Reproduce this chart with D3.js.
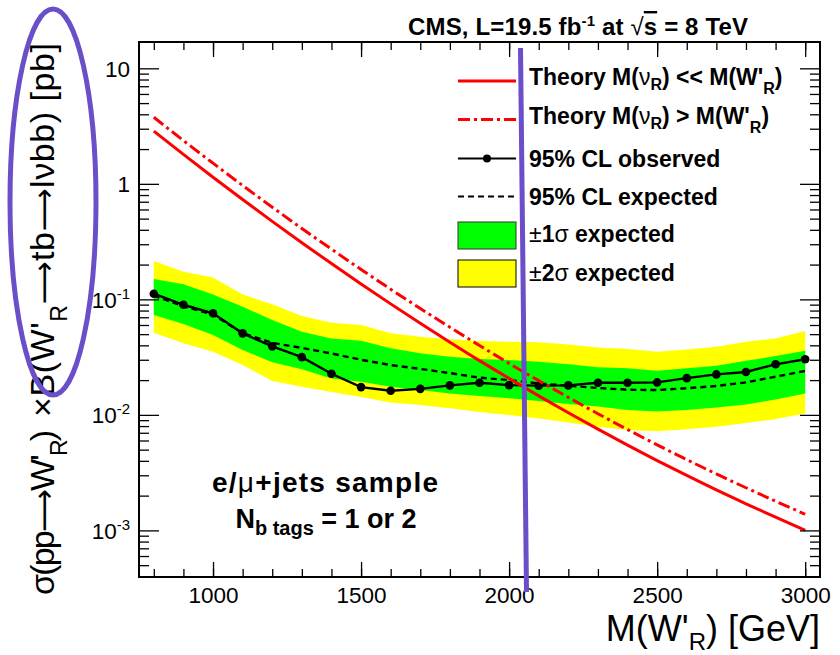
<!DOCTYPE html>
<html>
<head>
<meta charset="utf-8">
<script src="https://cdn.jsdelivr.net/npm/d3@7/dist/d3.min.js"></script>
<style>
  html, body { margin: 0; padding: 0; background: #fff; }
  svg { display: block; font-family: "Liberation Sans", Arial, Helvetica, sans-serif; }
</style>
</head>
<body>
<svg id="chart" width="840" height="655"></svg>
<script>
// W'_R -> tb mass points (GeV)
const masses = [800, 900, 1000, 1100, 1200, 1300, 1400, 1500, 1600, 1700, 1800, 1900,
                2000, 2100, 2200, 2300, 2400, 2500, 2600, 2700, 2800, 2900, 3000];

// 95% CL upper limits on sigma x B (pb)
const observed = [0.112, 0.0898, 0.0757, 0.0508, 0.0392, 0.0316, 0.0227, 0.0174, 0.0162, 0.0168, 0.0180, 0.0190,
                  0.0181, 0.0179, 0.0180, 0.0190, 0.0190, 0.0191, 0.0208, 0.0224, 0.0235, 0.0274, 0.0303];
const expected = [0.108, 0.087, 0.074, 0.051, 0.042, 0.038, 0.034, 0.030, 0.027, 0.025, 0.023, 0.021,
                  0.020, 0.0187, 0.0179, 0.0171, 0.0165, 0.0164, 0.0170, 0.0178, 0.0191, 0.0214, 0.0240];

// expected-limit bands
const plus2 = [0.215, 0.173, 0.155, 0.110, 0.0905, 0.0717, 0.0627, 0.0600, 0.0508, 0.0475, 0.0451, 0.0436,
               0.0430, 0.0425, 0.0407, 0.0384, 0.0371, 0.0352, 0.0369, 0.0389, 0.0430, 0.0459, 0.0531];
const plus1 = [0.150, 0.135, 0.110, 0.0863, 0.0662, 0.0524, 0.0459, 0.0438, 0.0377, 0.0341, 0.0318, 0.0304,
               0.0298, 0.0288, 0.0275, 0.0258, 0.0253, 0.0241, 0.0253, 0.0266, 0.0294, 0.0323, 0.0359];
const minus1 = [0.0731, 0.0611, 0.0491, 0.0364, 0.0285, 0.0248, 0.0207, 0.0194, 0.0175, 0.0164, 0.0153, 0.0146,
                0.0139, 0.0132, 0.0124, 0.0118, 0.0110, 0.0107, 0.0110, 0.0116, 0.0123, 0.0136, 0.0153];
const minus2 = [0.0514, 0.0416, 0.0352, 0.0270, 0.0196, 0.0175, 0.0158, 0.0143, 0.0128, 0.0122, 0.0114, 0.0106,
                0.0100, 0.0093, 0.0086, 0.0079, 0.0074, 0.0072, 0.0075, 0.0079, 0.0085, 0.0092, 0.0103];

// theory cross sections (pb)
const theoryLight = [2.86, 1.80, 1.14, 0.731, 0.473, 0.309, 0.204, 0.136, 0.0914, 0.0621, 0.0426, 0.0295,
                     0.0207, 0.0146, 0.01043, 0.00752, 0.00547, 0.00402, 0.00299, 0.00224, 0.00170, 0.00130, 0.00100];
const theoryHeavy = [3.77, 2.37, 1.51, 0.968, 0.628, 0.411, 0.272, 0.1815, 0.1224, 0.0834, 0.0574, 0.0399,
                     0.0279, 0.0198, 0.01417, 0.01023, 0.00747, 0.00550, 0.00410, 0.00308, 0.00234, 0.00179, 0.00138];

// axis ticks
const xMajor = [1000, 1500, 2000, 2500, 3000];
const yMajor = [0.001, 0.01, 0.1, 1, 10];
const yLabels = [["10", "-3"], ["10", "-2"], ["10", "-1"], ["1", ""], ["10", ""]];

const svg = d3.select("#chart");
const L = 139, R = 820, T = 42, B = 577;

const x = d3.scaleLinear().domain([750, 3050]).range([L, R]);
const y = d3.scaleLog().domain([3.95e-4, 16.9]).range([B, T]);

const pts = (vals) => masses.map((m, i) => [m, vals[i]]);

// bands
const band = (lo, hi) => d3.area()
  .x((d, i) => x(masses[i]))
  .y0((d, i) => y(lo[i]))
  .y1((d, i) => y(hi[i]))(masses);

svg.append("path").attr("d", band(minus2, plus2)).attr("fill", "#ffff00");
svg.append("path").attr("d", band(minus1, plus1)).attr("fill", "#00ff00");

const line = d3.line().x(d => x(d[0])).y(d => y(d[1]));
const smooth = d3.line().x(d => x(d[0])).y(d => y(d[1])).curve(d3.curveMonotoneX);

// expected limit
svg.append("path").attr("d", line(pts(expected)))
  .attr("fill", "none").attr("stroke", "#000").attr("stroke-width", 2.4)
  .attr("stroke-dasharray", "6,4");

// observed limit
svg.append("path").attr("d", line(pts(observed)))
  .attr("fill", "none").attr("stroke", "#000").attr("stroke-width", 2.4);
svg.selectAll("circle.obs").data(pts(observed)).enter().append("circle")
  .attr("class", "obs")
  .attr("cx", d => x(d[0])).attr("cy", d => y(d[1])).attr("r", 4.3).attr("fill", "#000");

// theory curves
svg.append("path").attr("d", smooth(pts(theoryLight)))
  .attr("fill", "none").attr("stroke", "#ff0000").attr("stroke-width", 3);
svg.append("path").attr("d", smooth(pts(theoryHeavy)))
  .attr("fill", "none").attr("stroke", "#ff0000").attr("stroke-width", 3)
  .attr("stroke-dasharray", "12,4,3,4");

// axes: ticks drawn inward on all four sides
function styleAxis(g) {
  g.select(".domain").remove();
  g.selectAll(".tick line").attr("stroke", "#000").attr("stroke-width", 1.3);
}
const xMinor = d3.range(800, 3001, 100);
const yMinor = [];
for (let e = -4; e <= 1; e++) for (let k = 2; k <= 9; k++) {
  const v = k * Math.pow(10, e);
  if (v > 3.95e-4 && v < 16.9) yMinor.push(v);
}

svg.append("g").attr("transform", `translate(0,${B})`)
  .call(d3.axisBottom(x).tickValues(xMinor).tickSize(-8).tickFormat("")).call(styleAxis);
svg.append("g").attr("transform", `translate(0,${B})`)
  .call(d3.axisBottom(x).tickValues(xMajor).tickSize(-15).tickPadding(10).tickFormat(d3.format("d")))
  .call(styleAxis)
  .call(g => g.selectAll("text").attr("font-size", 22.5).attr("fill", "#000")
    .attr("font-family", "'Liberation Sans', Arial, sans-serif"));
svg.append("g").attr("transform", `translate(0,${T})`)
  .call(d3.axisTop(x).tickValues(xMinor).tickSize(-8).tickFormat("")).call(styleAxis);
svg.append("g").attr("transform", `translate(0,${T})`)
  .call(d3.axisTop(x).tickValues(xMajor).tickSize(-15).tickFormat("")).call(styleAxis);

svg.append("g").attr("transform", `translate(${L},0)`)
  .call(d3.axisLeft(y).tickValues(yMinor).tickSize(-10).tickFormat("")).call(styleAxis);
svg.append("g").attr("transform", `translate(${L},0)`)
  .call(d3.axisLeft(y).tickValues(yMajor).tickSize(-20).tickFormat("")).call(styleAxis);
svg.append("g").attr("transform", `translate(${R},0)`)
  .call(d3.axisRight(y).tickValues(yMinor).tickSize(-10).tickFormat("")).call(styleAxis);
svg.append("g").attr("transform", `translate(${R},0)`)
  .call(d3.axisRight(y).tickValues(yMajor).tickSize(-20).tickFormat("")).call(styleAxis);

// y tick labels with exponents
yMajor.forEach((v, i) => {
  const [base, exp] = yLabels[i];
  const t = svg.append("text").attr("x", 130).attr("y", y(v) + 8.5)
    .attr("text-anchor", "end").attr("font-size", 22.5).attr("fill", "#000");
  t.append("tspan").text(base);
  if (exp) t.append("tspan").attr("font-size", 15).attr("dy", -9).text(exp);
});

// frame
svg.append("rect").attr("x", L).attr("y", T).attr("width", R - L).attr("height", B - T)
  .attr("fill", "none").attr("stroke", "#000").attr("stroke-width", 2);

// title
const title = svg.append("text").attr("x", 408).attr("y", 35)
  .attr("textLength", 340).attr("lengthAdjust", "spacing")
  .attr("font-size", 24).attr("font-weight", "bold").attr("fill", "#000");
title.append("tspan").text("CMS, L=19.5 fb");
title.append("tspan").attr("font-size", 15).attr("dy", -9).text("-1");
title.append("tspan").attr("dy", 9).text(" at ");
title.append("tspan").attr("font-weight", "normal").text("√");
title.append("tspan").attr("text-decoration", "overline").text("s");
title.append("tspan").text(" = 8 TeV");

// axis titles
const xt = svg.append("text").attr("x", 820).attr("y", 641).attr("text-anchor", "end")
  .attr("font-size", 36).attr("fill", "#000");
xt.append("tspan").text("M(W'");
xt.append("tspan").attr("font-size", 24).attr("dy", 9).text("R");
xt.append("tspan").attr("dy", -9).text(") [GeV]");

// y title, in two runs laid along the axis
const arrow = (sel) => sel.append("tspan").attr("font-family", "'DejaVu Sans', sans-serif")
  .attr("font-size", 30).text("⟶");
const yg = svg.append("g").attr("transform", "translate(54,0) rotate(-90)")
  .attr("font-size", 34).attr("fill", "#000");
const ya = yg.append("text").attr("x", -595).attr("y", 0)
  .attr("textLength", 165).attr("lengthAdjust", "spacing");
ya.append("tspan").text("σ(pp");
arrow(ya);
ya.append("tspan").text("W'");
ya.append("tspan").attr("font-size", 23).attr("dy", 13).text("R");
ya.append("tspan").attr("dy", -13).text(")");
const yb = yg.append("text").attr("x", -417).attr("y", 0)
  .attr("textLength", 374).attr("lengthAdjust", "spacing");
yb.append("tspan").text("×B(W'");
yb.append("tspan").attr("font-size", 23).attr("dy", 13).text("R");
arrow(yb).attr("dy", -13);
yb.append("tspan").text("tb");
arrow(yb);
yb.append("tspan").text("lνbb) [pb]");

// sample label
const s1 = svg.append("text").attr("x", 212).attr("y", 492)
  .attr("textLength", 226).attr("lengthAdjust", "spacing")
  .attr("font-size", 28).attr("font-weight", "bold").attr("fill", "#000");
s1.append("tspan").text("e/");
s1.append("tspan").attr("font-weight", "normal").text("μ");
s1.append("tspan").text("+jets sample");
const s2 = svg.append("text").attr("x", 326).attr("y", 528).attr("text-anchor", "middle")
  .attr("font-size", 27).attr("font-weight", "bold").attr("fill", "#000");
s2.append("tspan").text("N");
s2.append("tspan").attr("font-size", 20).attr("dy", 7).text("b tags");
s2.append("tspan").attr("dy", -7).text(" = 1 or 2");

// legend
const lg = svg.append("g");
const lx0 = 458, lx1 = 516, tx = 529;
lg.append("line").attr("x1", lx0).attr("x2", lx1).attr("y1", 81).attr("y2", 81)
  .attr("stroke", "#ff0000").attr("stroke-width", 3);
lg.append("line").attr("x1", lx0).attr("x2", lx1).attr("y1", 119.5).attr("y2", 119.5)
  .attr("stroke", "#ff0000").attr("stroke-width", 3).attr("stroke-dasharray", "12,4,3,4");
lg.append("line").attr("x1", lx0).attr("x2", lx1).attr("y1", 158.5).attr("y2", 158.5)
  .attr("stroke", "#000").attr("stroke-width", 2.2);
lg.append("circle").attr("cx", (lx0 + lx1) / 2).attr("cy", 158.5).attr("r", 4).attr("fill", "#000");
lg.append("line").attr("x1", lx0).attr("x2", lx1).attr("y1", 196.5).attr("y2", 196.5)
  .attr("stroke", "#000").attr("stroke-width", 2.2).attr("stroke-dasharray", "6,4");
lg.append("rect").attr("x", lx0).attr("y", 222).attr("width", lx1 - lx0).attr("height", 27)
  .attr("fill", "#00ff00").attr("stroke", "#333").attr("stroke-width", 1);
lg.append("rect").attr("x", lx0).attr("y", 260).attr("width", lx1 - lx0).attr("height", 27)
  .attr("fill", "#ffff00").attr("stroke", "#000").attr("stroke-width", 1);

function legendText(yb) {
  return lg.append("text").attr("x", tx).attr("y", yb)
    .attr("font-size", 23).attr("font-weight", "bold").attr("fill", "#000");
}
let t1 = legendText(85);
t1.append("tspan").text("Theory M(");
t1.append("tspan").attr("font-weight", "normal").text("ν");
t1.append("tspan").attr("font-size", 16).attr("dy", 5).text("R");
t1.append("tspan").attr("dy", -5).text(") << M(W'");
t1.append("tspan").attr("font-size", 16).attr("dy", 9).text("R");
t1.append("tspan").attr("dy", -9).text(")");
let t2 = legendText(123.5);
t2.append("tspan").text("Theory M(");
t2.append("tspan").attr("font-weight", "normal").text("ν");
t2.append("tspan").attr("font-size", 16).attr("dy", 5).text("R");
t2.append("tspan").attr("dy", -5).text(") > M(W'");
t2.append("tspan").attr("font-size", 16).attr("dy", 9).text("R");
t2.append("tspan").attr("dy", -9).text(")");
legendText(166.5).text("95% CL observed");
legendText(204.5).text("95% CL expected");
let t5 = legendText(241.5);
t5.append("tspan").attr("font-weight", "normal").text("±");
t5.append("tspan").text("1");
t5.append("tspan").attr("font-weight", "normal").text("σ");
t5.append("tspan").text(" expected");
let t6 = legendText(281);
t6.append("tspan").attr("font-weight", "normal").text("±");
t6.append("tspan").text("2");
t6.append("tspan").attr("font-weight", "normal").text("σ");
t6.append("tspan").text(" expected");

// highlight marks
const hl = "#6a4fc8";
svg.append("ellipse").attr("cx", 53).attr("cy", 202).attr("rx", 43).attr("ry", 193)
  .attr("fill", "none").attr("stroke", hl).attr("stroke-width", 5);
svg.append("line").attr("x1", 520.5).attr("y1", 48).attr("x2", 526.5).attr("y2", 592)
  .attr("stroke", hl).attr("stroke-width", 5);
</script>
</body>
</html>
